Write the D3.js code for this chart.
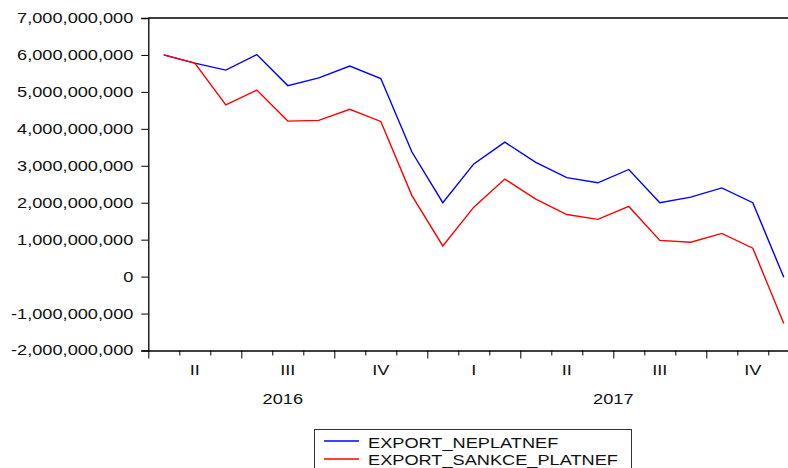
<!DOCTYPE html>
<html>
<head>
<meta charset="utf-8">
<script src="https://cdn.jsdelivr.net/npm/d3@7"></script>
<style>
  body { margin: 0; background: #fff; }
  svg { display: block; }
  text { font-family: "Liberation Sans", Arial, sans-serif; font-size: 14px; fill: #111; }
</style>
</head>
<body>
<div id="chart"></div>
<script>
// monthly observations, April 2016 - December 2017
const months = ["2016M04", "2016M05", "2016M06", "2016M07", "2016M08", "2016M09",
    "2016M10", "2016M11", "2016M12", "2017M01", "2017M02", "2017M03",
    "2017M04", "2017M05", "2017M06", "2017M07", "2017M08", "2017M09",
    "2017M10", "2017M11", "2017M12"];

const exportNeplatnef = [6.00e9, 5.78e9, 5.59e9, 6.01e9, 5.17e9, 5.38e9, 5.70e9, 5.36e9,
    3.38e9, 2.00e9, 3.05e9, 3.64e9, 3.09e9, 2.68e9, 2.54e9, 2.90e9, 2.00e9, 2.15e9,
    2.40e9, 2.00e9, -0.02e9];

const exportSankcePlatnef = [6.00e9, 5.78e9, 4.65e9, 5.05e9, 4.21e9, 4.23e9, 4.53e9, 4.20e9,
    2.20e9, 0.83e9, 1.88e9, 2.64e9, 2.10e9, 1.68e9, 1.55e9, 1.90e9, 0.98e9, 0.93e9,
    1.17e9, 0.77e9, -1.27e9];

const seriesNames = ["EXPORT_NEPLATNEF", "EXPORT_SANKCE_PLATNEF"];
const seriesColors = ["#0000ff", "#ff0000"];

const yTicks = [-2e9, -1e9, 0, 1e9, 2e9, 3e9, 4e9, 5e9, 6e9, 7e9];

// quarter labels: [label, first month index, last month index + 1]
const quarters = [["II", 0, 3], ["III", 3, 6], ["IV", 6, 9], ["I", 9, 12],
    ["II", 12, 15], ["III", 15, 18], ["IV", 18, 21]];
const years = [["2016", 0, 9], ["2017", 9, 21]];

const width = 788, height = 468;
const plotLeft = 148.3, plotTop = 18, plotBottom = 350.5;
const stretch = 1.3; // EViews glyphs are wide

const svg = d3.select("#chart").append("svg")
    .attr("width", width)
    .attr("height", height);

const x = d3.scaleLinear().domain([0, months.length]).range([plotLeft, plotLeft + 31 * months.length]);
const y = d3.scaleLinear().domain([-2e9, 7e9]).range([plotBottom, plotTop]);

// frame
svg.append("line")
    .attr("x1", plotLeft).attr("x2", width + 20)
    .attr("y1", plotTop).attr("y2", plotTop)
    .attr("stroke", "#000").attr("stroke-width", 1.3);

// y axis
const fmt = d => d3.format(",")(d).replace("\u2212", "-");
const yAxis = svg.append("g")
    .attr("transform", `translate(${plotLeft},0)`)
    .call(d3.axisLeft(y).tickValues(yTicks).tickSize(7).tickFormat(fmt));
yAxis.select(".domain").attr("stroke-width", 1.3);
yAxis.selectAll("text")
    .attr("x", -11.5)
    .attr("transform", `scale(${stretch},1)`)
    .style("font-size", "14px")
    .style("font-family", "'Liberation Sans', Arial, sans-serif");

// x axis
const xAxis = svg.append("g")
    .attr("transform", `translate(0,${plotBottom})`)
    .call(d3.axisBottom(x).tickValues(d3.range(0, months.length + 1)).tickSizeOuter(0).tickFormat(""));
xAxis.select(".domain").attr("stroke-width", 1.3);
xAxis.selectAll(".tick line")
    .attr("y2", d => d % 3 === 0 ? 8 : 5);

svg.append("g").selectAll("text")
    .data(quarters)
    .join("text")
    .attr("transform", d => `translate(${x((d[1] + d[2]) / 2)},375) scale(${stretch},1)`)
    .attr("text-anchor", "middle")
    .text(d => d[0]);

svg.append("g").selectAll("text")
    .data(years)
    .join("text")
    .attr("transform", d => `translate(${x((d[1] + d[2]) / 2) - (d[0] === "2016" ? 5 : 0)},404) scale(${stretch},1)`)
    .attr("text-anchor", "middle")
    .text(d => d[0]);

// lines
const line = d3.line()
    .x((d, i) => x(i + 0.5))
    .y(d => y(d));

[exportNeplatnef, exportSankcePlatnef].forEach((values, k) => {
    svg.append("path")
        .datum(values)
        .attr("fill", "none")
        .attr("stroke", seriesColors[k])
        .attr("stroke-width", 1.4)
        .attr("d", line);
});

// legend
const legend = svg.append("g");
legend.append("rect")
    .attr("x", 314.5).attr("y", 429.5)
    .attr("width", 317).attr("height", 60)
    .attr("fill", "#fff")
    .attr("stroke", "#333");

seriesNames.forEach((name, k) => {
    legend.append("line")
        .attr("x1", 324).attr("x2", 359)
        .attr("y1", 441 + 18 * k).attr("y2", 441 + 18 * k)
        .attr("stroke", seriesColors[k])
        .attr("stroke-width", 1.4);
    legend.append("text")
        .attr("transform", `translate(368,${448 + 17 * k}) scale(${stretch},1)`)
        .text(name);
});
</script>
</body>
</html>
